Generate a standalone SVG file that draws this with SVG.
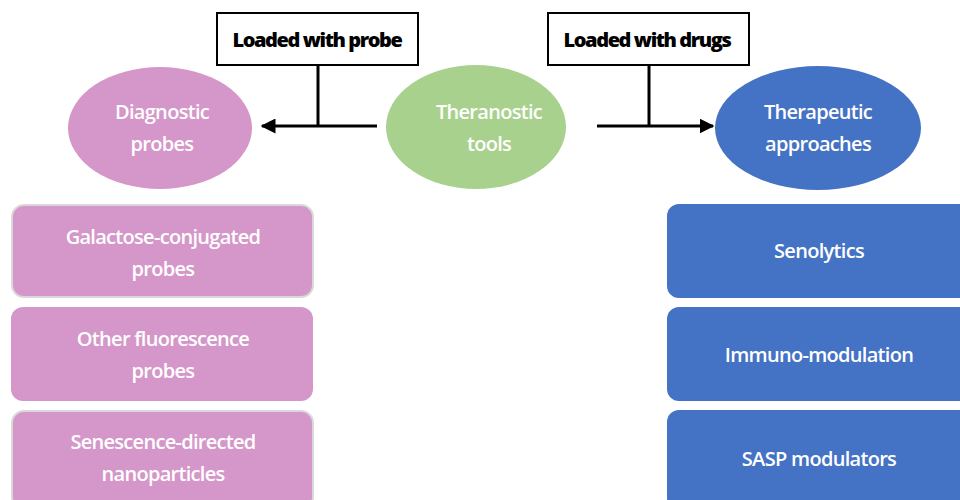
<svg xmlns="http://www.w3.org/2000/svg" width="960" height="500" viewBox="0 0 960 500">
<defs>
<style>
.lbl{fill:#fff;stroke:#000;stroke-width:2}
.lt{font-family:"Open Sans","Liberation Sans",sans-serif;font-weight:800;font-size:20px;fill:#000;text-anchor:middle;letter-spacing:-1.4px}
.wt{font-family:"Open Sans","Liberation Sans",sans-serif;font-weight:600;font-size:20px;fill:#fff;text-anchor:middle;letter-spacing:-0.7px}
.pink{fill:#D597C9}
.blue{fill:#4472C4}
.green{fill:#A9D18E}
.conn{stroke:#000;stroke-width:3;fill:none}
</style>
<marker id="ah" viewBox="0 0 10 10" refX="9" refY="5" markerWidth="5" markerHeight="5" orient="auto" markerUnits="strokeWidth">
<path d="M0,0 L10,5 L0,10 z" fill="#000"/>
</marker>
</defs>
<rect width="960" height="500" fill="#fff"/>
<g id="connectors">
<line class="conn" x1="318" y1="65" x2="318" y2="126" stroke-width="2"/>
<line class="conn" x1="377" y1="126" x2="262" y2="126" marker-end="url(#ah)"/>
<line class="conn" x1="649" y1="65" x2="649" y2="126" stroke-width="2"/>
<line class="conn" x1="597" y1="126" x2="713" y2="126" marker-end="url(#ah)"/>
</g>
<g id="label-probe">
<rect class="lbl" x="217" y="13" width="201" height="52"/>
<text class="lt" x="317" y="47">Loaded with probe</text>
</g>
<g id="label-drugs">
<rect class="lbl" x="548" y="13" width="201" height="52"/>
<text class="lt" x="647" y="47">Loaded with drugs</text>
</g>
<g id="diagnostic">
<ellipse class="pink" cx="160" cy="128" rx="92" ry="61"/>
<text class="wt" x="162" y="119">Diagnostic</text>
<text class="wt" x="162" y="151">probes</text>
</g>
<g id="theranostic">
<ellipse class="green" cx="476" cy="127" rx="90" ry="62"/>
<text class="wt" x="489" y="119">Theranostic</text>
<text class="wt" x="489" y="151">tools</text>
</g>
<g id="therapeutic">
<ellipse class="blue" cx="818" cy="128" rx="103" ry="62"/>
<text class="wt" x="818" y="119">Therapeutic</text>
<text class="wt" x="818" y="151">approaches</text>
</g>
<g id="galactose">
<rect class="pink" x="12" y="205" width="301" height="92" rx="12" stroke="#d9d9d9" stroke-width="2"/>
<text class="wt" x="163" y="244">Galactose-conjugated</text>
<text class="wt" x="163" y="276">probes</text>
</g>
<g id="fluorescence">
<rect class="pink" x="11" y="307" width="302" height="94" rx="12"/>
<text class="wt" x="163" y="346">Other fluorescence</text>
<text class="wt" x="163" y="378">probes</text>
</g>
<g id="nanoparticles">
<rect class="pink" x="12" y="411" width="301" height="98" rx="12" stroke="#d9d9d9" stroke-width="2"/>
<text class="wt" x="163" y="449">Senescence-directed</text>
<text class="wt" x="163" y="481">nanoparticles</text>
</g>
<g id="senolytics">
<rect class="blue" x="667" y="204" width="310" height="94" rx="12"/>
<text class="wt" x="819" y="258">Senolytics</text>
</g>
<g id="immuno">
<rect class="blue" x="667" y="307" width="310" height="94" rx="12"/>
<text class="wt" x="819" y="362">Immuno-modulation</text>
</g>
<g id="sasp">
<rect class="blue" x="667" y="410" width="310" height="100" rx="12"/>
<text class="wt" x="819" y="466">SASP modulators</text>
</g>
</svg>
